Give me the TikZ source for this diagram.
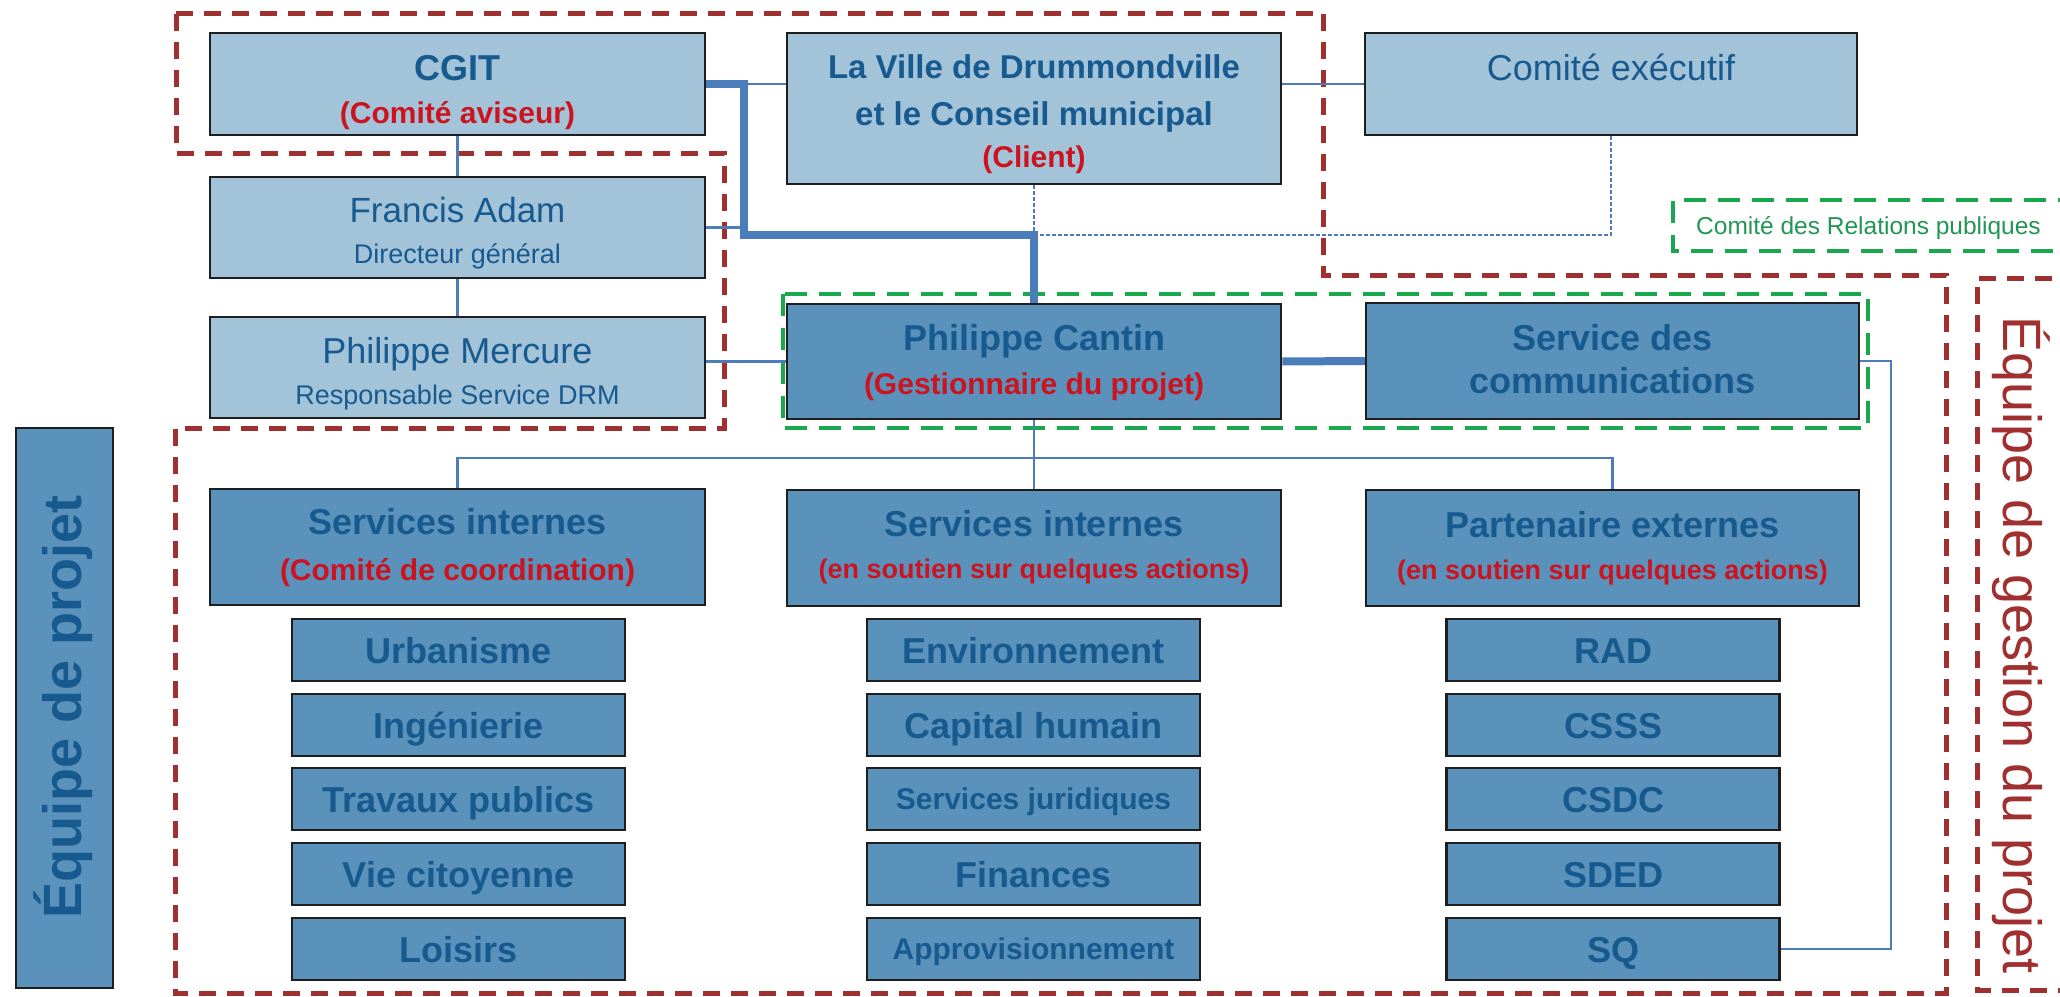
\documentclass[tikz,border=0pt]{standalone}
\usepackage{fontspec}
\setmainfont{Liberation Sans}
\definecolor{lightfill}{RGB}{163,195,217}
\definecolor{darkfill}{RGB}{91,146,187}
\definecolor{txtblue}{RGB}{23,90,143}
\definecolor{txtred}{RGB}{204,20,32}
\definecolor{grn}{RGB}{26,168,78}
\definecolor{grntext}{RGB}{34,150,85}
\definecolor{redd}{RGB}{160,48,47}
\definecolor{lineblue}{RGB}{74,125,186}
\definecolor{bordercol}{RGB}{30,30,30}
\newcommand{\fsz}[1]{\fontsize{#1}{#1}\selectfont}
\begin{document}
\begin{tikzpicture}[x=1pt,y=-1pt,
  basebox/.style={draw=bordercol, line width=2.5pt, inner sep=0pt},
  lbox/.style={basebox, fill=lightfill},
  dbox/.style={basebox, fill=darkfill},
  sbox/.style={dbox, minimum width=333pt, minimum height=62pt, text=txtblue,
    font=\bfseries\fsz{36}, text height=26pt, text depth=0pt},
  sboxs/.style={sbox, font=\bfseries\fsz{30}, text height=21.6pt},
  tb/.style={inner sep=0pt, anchor=base, text=txtblue},
  tr/.style={inner sep=0pt, anchor=base, text=txtred, font=\bfseries\fsz{30}},
  thinc/.style={draw=lineblue, line width=2.5pt},
  thickc/.style={draw=lineblue, line width=8pt, line join=miter},
  dashc/.style={draw=lineblue, line width=2.5pt, dash pattern=on 4pt off 2pt},
  reddash/.style={draw=redd, line width=5pt, dash pattern=on 17pt off 11pt},
  grndash/.style={draw=grn, line width=4.5pt, dash pattern=on 22pt off 12pt}]
\useasboundingbox (0,0) rectangle (2060,996);
\fill[white] (0,0) rectangle (2060,996);

% dashed regions
\draw[reddash] (176,13) -- (1323,13) -- (1323,275) -- (1946,275) -- (1946,993)
  -- (175,993) -- (175,428) -- (724,428) -- (724,153) -- (176,153) -- cycle;
\draw[reddash] (2080,278) -- (1977,278) -- (1977,990) -- (2080,990);
\draw[grndash] (783,294) rectangle (1868,428);
\draw[grndash] (2080,200) -- (1673,200) -- (1673,251) -- (2080,251);

% top boxes
\node[lbox, minimum width=495pt, minimum height=102pt] (cgit) at (457.5,84) {};
\node[lbox, minimum width=494pt, minimum height=151pt] (ville) at (1034,108.5) {};
\node[lbox, minimum width=492pt, minimum height=102pt] (comex) at (1611,84) {};
\node[lbox, minimum width=495pt, minimum height=101pt] (francis) at (457.5,227.5) {};
\node[lbox, minimum width=495pt, minimum height=101pt] (mercure) at (457.5,367.5) {};
\node[dbox, minimum width=494pt, minimum height=115pt] (cantin) at (1034,361.5) {};
\node[dbox, minimum width=493pt, minimum height=116pt] (service) at (1612.5,361) {};
\node[dbox, minimum width=495pt, minimum height=116pt] (sil) at (457.5,547) {};
\node[dbox, minimum width=494pt, minimum height=116pt] (sim) at (1034,548) {};
\node[dbox, minimum width=493pt, minimum height=116pt] (part) at (1612.5,548) {};
\node[dbox, minimum width=97pt, minimum height=560pt] (eqp) at (64.5,708) {};

% texts
\node[tb, font=\bfseries\fsz{36}] (cgitA) at (457.5,80) {CGIT};
\node[tr] (cgitB) at (457.5,123) {(Comité aviseur)};
\node[tb, font=\bfseries\fsz{33}] (villeA) at (1034,78) {La Ville de Drummondville};
\node[tb, font=\bfseries\fsz{33}] (villeB) at (1034,125) {et le Conseil municipal};
\node[tr] (villeC) at (1034,167) {(Client)};
\node[tb, font=\fsz{36}] (comexA) at (1611,80) {Comité exécutif};
\node[tb, font=\fsz{35}] (francisA) at (457.5,222) {Francis Adam};
\node[tb, font=\fsz{27}] (francisB) at (457.5,263) {Directeur général};
\node[tb, font=\fsz{36}] (mercureA) at (457.5,363) {Philippe Mercure};
\node[tb, font=\fsz{27}] (mercureB) at (457.5,404) {Responsable Service DRM};
\node[tb, font=\bfseries\fsz{36}] (cantinA) at (1034,350) {Philippe Cantin};
\node[tr] (cantinB) at (1034,394) {(Gestionnaire du projet)};
\node[tb, font=\bfseries\fsz{36}] (serviceA) at (1612.5,350) {Service des};
\node[tb, font=\bfseries\fsz{36}] (serviceB) at (1612.5,393) {communications};
\node[tb, font=\bfseries\fsz{36}] (silA) at (457.5,534) {Services internes};
\node[tr] (silB) at (457.5,580) {(Comité de coordination)};
\node[tb, font=\bfseries\fsz{36}] (simA) at (1034,536) {Services internes};
\node[tr, font=\bfseries\fsz{27}] (simB) at (1034,578) {(en soutien sur quelques actions)};
\node[tb, font=\bfseries\fsz{36}] (partA) at (1612.5,537) {Partenaire externes};
\node[tr, font=\bfseries\fsz{27}] (partB) at (1612.5,579) {(en soutien sur quelques actions)};
\node[inner sep=0pt, anchor=base west, text=grntext, font=\fsz{24.5}] (relpub) at (1696,234) {Comité des Relations publiques};
\node[inner sep=0pt, rotate=90, text=txtblue, font=\bfseries\fsz{54}, text height=39pt, text depth=0pt] (eqpt) at (61.5,707) {Équipe de projet};
\node[inner sep=0pt, rotate=-90, text=redd, font=\fsz{54}, text height=39pt, text depth=0pt] (egp) at (2023,645) {Équipe de gestion du projet};

% sub boxes
\node[sbox] (urb) at (458.5,650) {Urbanisme};
\node[sbox] (ing) at (458.5,725) {Ingénierie};
\node[sbox] (trav) at (458.5,799) {Travaux publics};
\node[sbox] (vie) at (458.5,874) {Vie citoyenne};
\node[sbox] (lois) at (458.5,949) {Loisirs};
\node[sbox] (env) at (1033.5,650) {Environnement};
\node[sbox] (cap) at (1033.5,725) {Capital humain};
\node[sboxs] (jur) at (1033.5,799) {Services juridiques};
\node[sbox] (fin) at (1033.5,874) {Finances};
\node[sboxs] (appro) at (1033.5,949) {Approvisionnement};
\node[sbox] (rad) at (1613,650) {RAD};
\node[sbox] (csss) at (1613,725) {CSSS};
\node[sbox] (csdc) at (1613,799) {CSDC};
\node[sbox] (sded) at (1613,874) {SDED};
\node[sbox] (sq) at (1613,949) {SQ};

% connectors
\coordinate (j1) at (744,84);
\coordinate (j2) at (744,235);
\coordinate (j3) at (1034,235);
\coordinate (t0) at (1034,458);
\coordinate (s1) at (1891,361);
\draw[thinc] (cgit.south) -- (francis.north);
\draw[thinc] (francis.south) -- (mercure.north);
\draw[thinc] (j1) -- (j1 -| ville.west);
\draw[thinc] (francis.east) -- (francis.east -| j1);
\draw[thinc] (ville.east |- j1) -- (comex.west |- j1);
\draw[dashc] (ville.south) -- (j3);
\draw[dashc] (comex.south) -- (comex.south |- j3) -- (j3);
\draw[thickc] (cgit.east |- j1) -- (j1) -- (j2) -- (j3) -- (cantin.north);
\draw[thickc] (cantin.east) -- (service.west);
\draw[thinc] (cantin.west -| mercure.east) -- (cantin.west);
\draw[thinc] (cantin.south) -- (sim.north);
\draw[thinc] (sil.north) -- (sil.north |- t0) -- (part.north |- t0) -- (part.north);
\draw[thinc] (service.east) -- (s1) -- (s1 |- sq.east) -- (sq.east);
\end{tikzpicture}
\end{document}
